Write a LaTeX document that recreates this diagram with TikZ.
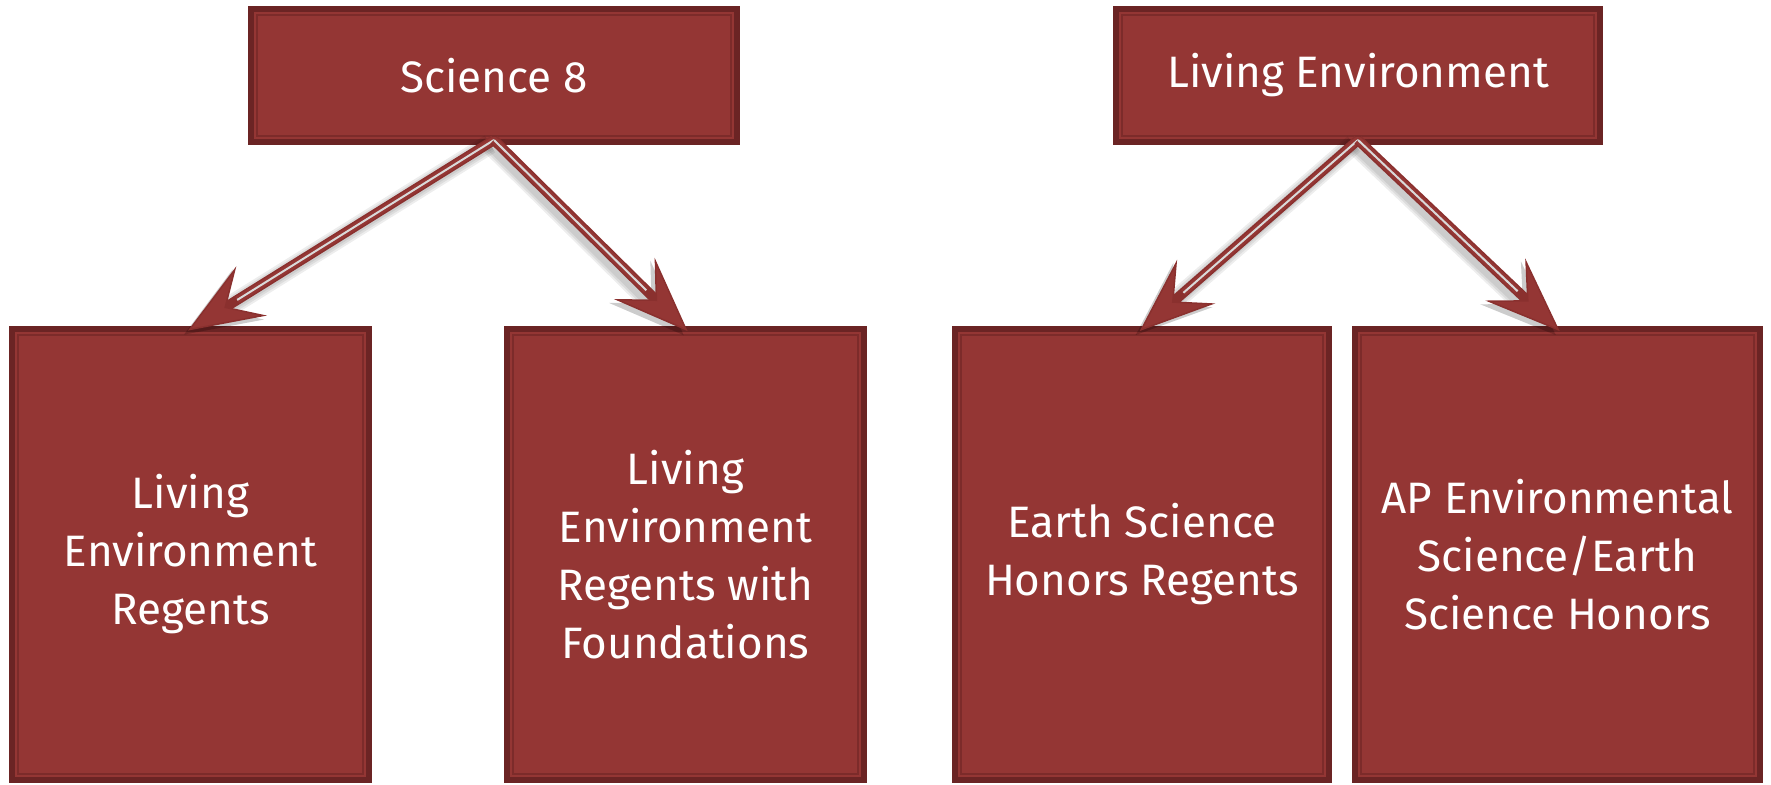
\documentclass[tikz,border=0pt]{standalone}
\usepackage{fontspec}
\setmainfont{Fira Sans}
\usetikzlibrary{arrows.meta,calc}
\definecolor{boxfill}{HTML}{943634}
\definecolor{boxdark}{HTML}{6B2424}
\definecolor{boxline}{HTML}{7C2B2A}
\definecolor{shaftlight}{HTML}{D9D9D9}
\definecolor{tipedge}{HTML}{8A302E}
\tikzset{
  course/.style={draw=boxdark, line width=6pt, fill=boxfill, inner sep=0pt, outer sep=0pt,
    text=white, align=center, font=\fontsize{44}{58}\selectfont},
  innerline/.style={draw=boxline, line width=1.5pt},
  arrowbody/.style={draw=tipedge, line width=10pt,
    -{Stealth[length=75pt,width=58pt,inset=30pt,line width=1.5pt,fill=boxfill]}},
  shaftcore/.style={draw=boxfill, line width=7pt, shorten >=55pt},
  shaftlightline/.style={draw=shaftlight, line width=2pt, shorten >=55pt},
  shadowline/.style={draw=black, opacity=0.07, line width=#1,
    -{Stealth[length=75pt,width=58pt,inset=30pt,line width=#1]},
    transform canvas={shift={(-4pt,-4pt)}}},
}
\begin{document}
\begin{tikzpicture}[x=1pt,y=-1pt]
\useasboundingbox (0,0) rectangle (1771,784);
\node[course, minimum width=486pt, minimum height=133pt] (s8) at (494,75.5) {Science 8};
\node[course, minimum width=484pt, minimum height=133pt] (le) at (1358,75.5) {Living Environment};
\node[course, minimum width=357pt, minimum height=451pt] (b1) at (190.5,554.5) {Living\\Environment\\Regents};
\node[course, minimum width=357pt, minimum height=451pt] (b2) at (685.5,554.5) {Living\\Environment\\Regents with\\Foundations};
\node[course, minimum width=374pt, minimum height=451pt] (b3) at (1142,554.5) {Earth Science\\Honors Regents};
\node[course, minimum width=405pt, minimum height=451pt] (b4) at (1557.5,554.5) {AP Environmental\\Science/Earth\\Science Honors};
\foreach \n in {s8,le,b1,b2,b3,b4}{
  \draw[innerline] ([shift={(6pt,-6pt)}]\n.north west) rectangle ([shift={(-6pt,6pt)}]\n.south east);
}
\coordinate (s8a) at ([yshift=2pt]s8.south);
\coordinate (lea) at ([yshift=2pt]le.south);
\foreach \a/\b in {s8a/b1,s8a/b2,lea/b3,lea/b4}{
  \foreach \w in {12pt,16pt,20pt}{
    \draw[shadowline=\w, shorten >=-3pt] (\a) -- (\b.north);
  }
}
\foreach \a/\b in {s8a/b1,s8a/b2,lea/b3,lea/b4}{
  \draw[arrowbody, shorten >=-3pt] (\a) -- (\b.north);
  \draw[shaftcore] (\a) -- (\b.north);
  \draw[shaftlightline] (\a) -- (\b.north);
}
\end{tikzpicture}
\end{document}
